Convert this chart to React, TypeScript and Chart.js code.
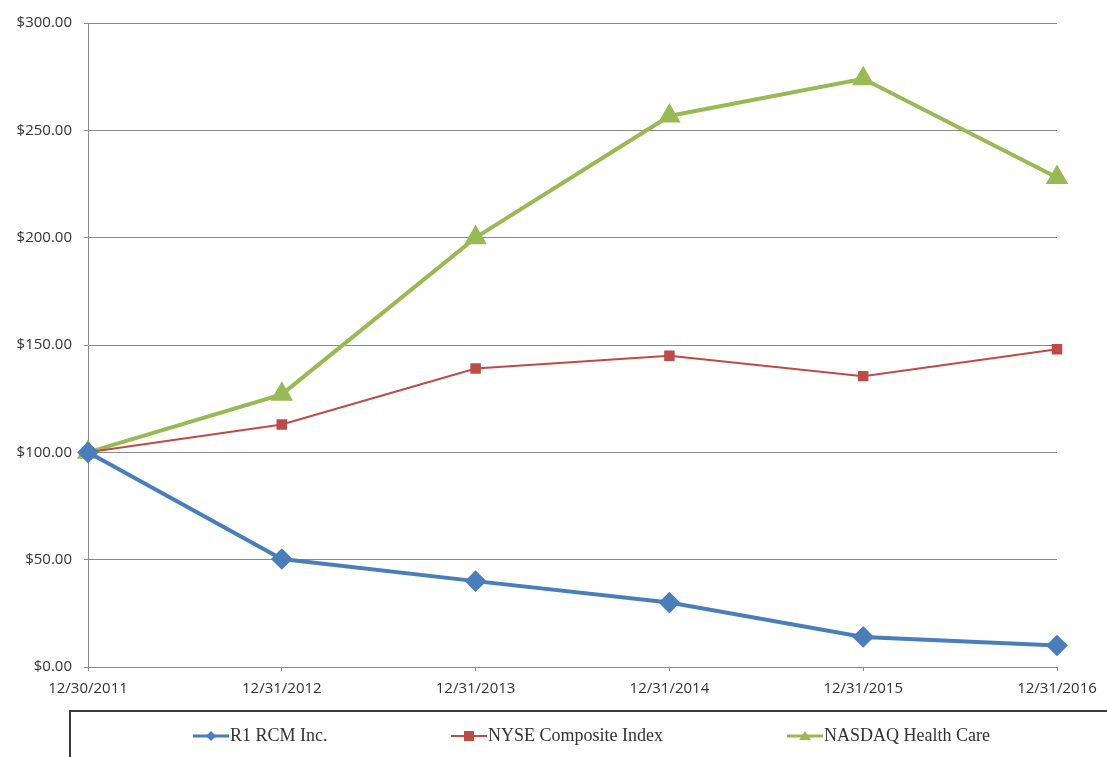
import React, { useEffect, useRef } from "react";
import { Chart, registerables } from "chart.js";

Chart.register(...registerables);

const categories = ["12/30/2011", "12/31/2012", "12/31/2013", "12/31/2014", "12/31/2015", "12/31/2016"];
const r1Values = [100, 50.3, 40, 30, 14, 10];
const nyseValues = [100, 113, 139, 145, 135.5, 148];
const nasdaqValues = [100, 127, 200, 256.7, 274, 228];
const seriesNames = ["R1 RCM Inc.", "NYSE Composite Index", "NASDAQ Health Care"];

const legendPlugin = {
  id: "boxLegend",
  afterDraw(chart: any) {
    const ctx = chart.ctx;
    ctx.save();
    ctx.strokeStyle = "#3a3a3a";
    ctx.lineWidth = 2;
    ctx.strokeRect(70, 711, 1100, 100);
    const items = [
      { x: 193, ds: chart.data.datasets[0] },
      { x: 451, ds: chart.data.datasets[1] },
      { x: 787, ds: chart.data.datasets[2] },
    ];
    const y = 736;
    ctx.font = "18px 'Liberation Serif', 'DejaVu Serif', serif";
    ctx.textBaseline = "middle";
    ctx.textAlign = "left";
    items.forEach((it) => {
      const ds = it.ds;
      ctx.strokeStyle = ds.borderColor;
      ctx.lineWidth = ds.borderWidth > 3 ? 3 : 2;
      ctx.beginPath();
      ctx.moveTo(it.x, y);
      ctx.lineTo(it.x + 36, y);
      ctx.stroke();
      ctx.fillStyle = ds.pointBackgroundColor;
      const cx = it.x + 18;
      ctx.beginPath();
      if (ds.pointStyle === "rectRot") {
        ctx.moveTo(cx, y - 5);
        ctx.lineTo(cx + 5, y);
        ctx.lineTo(cx, y + 5);
        ctx.lineTo(cx - 5, y);
      } else if (ds.pointStyle === "rect") {
        ctx.rect(cx - 5, y - 5, 10, 10);
      } else {
        ctx.moveTo(cx, y - 5);
        ctx.lineTo(cx + 6, y + 4);
        ctx.lineTo(cx - 6, y + 4);
      }
      ctx.closePath();
      ctx.fill();
      ctx.fillStyle = "#333333";
      ctx.fillText(ds.label, it.x + 37, y);
    });
    ctx.restore();
  },
};

export default function App() {
  const canvasRef = useRef<HTMLCanvasElement | null>(null);

  useEffect(() => {
    document.body.style.margin = "0";
    const canvas = canvasRef.current;
    if (!canvas) return;
    const chart = new Chart(canvas, {
      type: "line",
      data: {
        labels: categories,
        datasets: [
          {
            label: seriesNames[0],
            data: r1Values,
            borderColor: "#4a7ebb",
            backgroundColor: "#4a7ebb",
            pointBackgroundColor: "#4a7ebb",
            pointBorderColor: "#4a7ebb",
            borderWidth: 4,
            pointStyle: "rectRot",
            pointRadius: 8,
            tension: 0,
          } as any,
          {
            label: seriesNames[1],
            data: nyseValues,
            borderColor: "#be4b48",
            backgroundColor: "#be4b48",
            pointBackgroundColor: "#be4b48",
            pointBorderColor: "#be4b48",
            borderWidth: 2,
            pointStyle: "rect",
            pointRadius: 6,
            tension: 0,
          } as any,
          {
            label: seriesNames[2],
            data: nasdaqValues,
            borderColor: "#98b954",
            backgroundColor: "#98b954",
            pointBackgroundColor: "#98b954",
            pointBorderColor: "#98b954",
            borderWidth: 4,
            pointStyle: "triangle",
            pointRadius: 9,
            tension: 0,
          } as any,
        ],
      },
      options: {
        animation: false,
        responsive: true,
        maintainAspectRatio: false,
        layout: { padding: { top: 23, right: 50, left: 0, bottom: 0 } },
        plugins: {
          legend: { display: false },
          tooltip: { enabled: false },
        },
        scales: {
          x: {
            type: "category",
            offset: false,
            grid: {
              drawOnChartArea: false,
              drawTicks: true,
              tickLength: 4,
              color: "#8a8a8a",
            },
            border: { color: "#8a8a8a", width: 1 },
            ticks: {
              maxRotation: 0,
              autoSkip: false,
              padding: 9,
              color: "#333333",
              font: { family: "'Open Sans', sans-serif", size: 15 },
            },
            afterFit(scale: any) {
              scale.height = 90;
            },
          },
          y: {
            min: 0,
            max: 300,
            grid: {
              color: "#8a8a8a",
              lineWidth: 1,
              drawTicks: true,
              tickLength: 4,
            },
            border: { color: "#8a8a8a", width: 1 },
            ticks: {
              stepSize: 50,
              padding: 12,
              color: "#333333",
              font: { family: "'Open Sans', sans-serif", size: 15 },
              callback: (v: any) => "$" + Number(v).toFixed(2),
            },
            afterFit(scale: any) {
              scale.width = 88;
            },
          },
        },
      },
      plugins: [legendPlugin],
    });
    return () => chart.destroy();
  }, []);

  return (
    <div style={{ position: "absolute", left: 0, top: 0, width: 1107, height: 757, background: "#fff" }}>
      <canvas ref={canvasRef} />
    </div>
  );
}
